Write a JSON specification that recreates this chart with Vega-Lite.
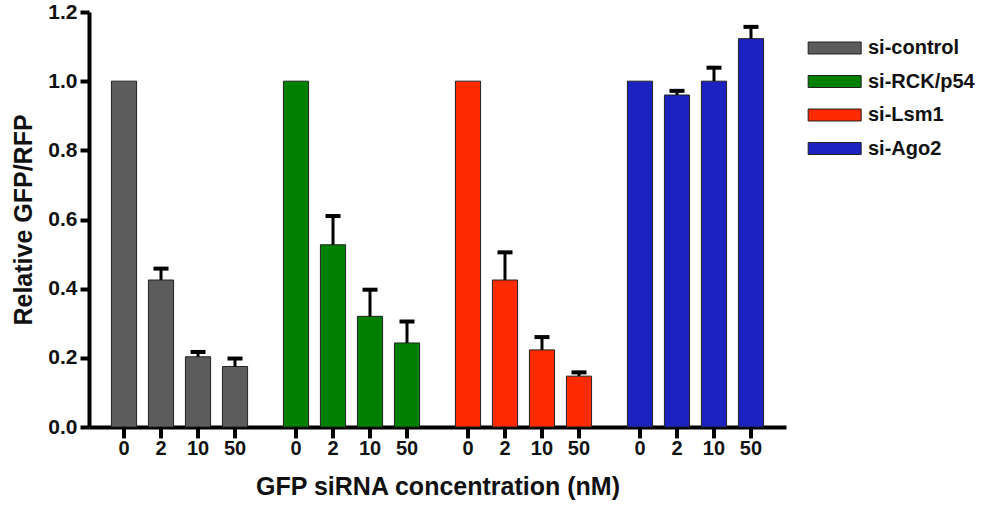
{
  "$schema": "https://vega.github.io/schema/vega-lite/v6.json",
  "autosize": {"type": "none"},
  "padding": {"left": 89, "top": 12, "right": 203, "bottom": 80},
  "width": 697,
  "height": 415,
  "config": {
    "view": {"stroke": null},
    "font": "Liberation Sans"
  },
  "data": {
    "values": [
      {"group": "si-control", "conc": "0", "value": 1.0, "err": null},
      {"group": "si-control", "conc": "2", "value": 0.425, "err": 0.458},
      {"group": "si-control", "conc": "10", "value": 0.203, "err": 0.217},
      {"group": "si-control", "conc": "50", "value": 0.175, "err": 0.198},
      {"group": "si-RCK/p54", "conc": "0", "value": 1.0, "err": null},
      {"group": "si-RCK/p54", "conc": "2", "value": 0.527, "err": 0.61},
      {"group": "si-RCK/p54", "conc": "10", "value": 0.32, "err": 0.397},
      {"group": "si-RCK/p54", "conc": "50", "value": 0.243, "err": 0.305},
      {"group": "si-Lsm1", "conc": "0", "value": 1.0, "err": null},
      {"group": "si-Lsm1", "conc": "2", "value": 0.425, "err": 0.505},
      {"group": "si-Lsm1", "conc": "10", "value": 0.223, "err": 0.26},
      {"group": "si-Lsm1", "conc": "50", "value": 0.147, "err": 0.158},
      {"group": "si-Ago2", "conc": "0", "value": 1.0, "err": null},
      {"group": "si-Ago2", "conc": "2", "value": 0.96, "err": 0.972},
      {"group": "si-Ago2", "conc": "10", "value": 1.0, "err": 1.039},
      {"group": "si-Ago2", "conc": "50", "value": 1.123, "err": 1.157}
    ]
  },
  "encoding": {
    "x": {
      "field": "group", "type": "nominal",
      "sort": ["si-control", "si-RCK/p54", "si-Lsm1", "si-Ago2"],
      "scale": {"paddingInner": 0.1395, "paddingOuter": 0.096},
      "axis": {
        "labels": false, "ticks": false, "domain": true,
        "domainColor": "black", "domainWidth": 4,
        "title": "GFP siRNA concentration (nM)",
        "titleFont": "Liberation Sans", "titleFontSize": 25, "titleFontWeight": "bold",
        "titleColor": "#111", "titlePadding": 47
      }
    },
    "xOffset": {
      "field": "conc", "type": "nominal",
      "sort": ["0", "2", "10", "50"],
      "scale": {"paddingInner": 0.32, "paddingOuter": 0.16}
    }
  },
  "layer": [
    {
      "mark": {"type": "bar", "stroke": "#222", "strokeWidth": 1},
      "encoding": {
        "y": {
          "field": "value", "type": "quantitative",
          "scale": {"domain": [0, 1.2], "nice": false, "zero": true},
          "axis": {
            "values": [0, 0.2, 0.4, 0.6, 0.8, 1.0, 1.2],
            "format": ".1f", "grid": false,
            "domainColor": "black", "domainWidth": 4,
            "tickColor": "black", "tickWidth": 4, "tickSize": 9,
            "labelFont": "Liberation Sans", "labelFontSize": 21, "labelFontWeight": "bold",
            "labelColor": "#111", "labelPadding": 3,
            "title": "Relative GFP/RFP",
            "titleFont": "Liberation Sans", "titleFontSize": 25, "titleFontWeight": "bold",
            "titleColor": "#111", "titlePadding": 11
          }
        },
        "color": {
          "field": "group", "type": "nominal",
          "sort": ["si-control", "si-RCK/p54", "si-Lsm1", "si-Ago2"],
          "scale": {"range": ["#5c5c5c", "#008000", "#ff2a00", "#1c22c0"]},
          "legend": {
            "title": null,
            "orient": "none", "legendX": 718, "legendY": 26,
            "padding": 0,
            "symbolType": "M-1,-0.678H5V0.678H-1Z",
            "symbolSize": 312,
            "symbolStrokeColor": "#222", "symbolStrokeWidth": 1,
            "symbolOpacity": 1,
            "labelFont": "Liberation Sans", "labelFontSize": 20, "labelFontWeight": "bold",
            "labelColor": "#111", "labelOffset": 41, "rowPadding": 13.5
          }
        }
      }
    },
    {
      "transform": [{"filter": "datum.err != null"}],
      "mark": {"type": "rule", "color": "black", "strokeWidth": 3},
      "encoding": {
        "y": {"field": "value", "type": "quantitative"},
        "y2": {"field": "err"}
      }
    },
    {
      "transform": [{"filter": "datum.err != null"}],
      "mark": {"type": "tick", "color": "black", "size": 15, "thickness": 4, "opacity": 1},
      "encoding": {
        "y": {"field": "err", "type": "quantitative"}
      }
    },
    {
      "mark": {"type": "rule", "color": "black", "strokeWidth": 4},
      "encoding": {
        "y": {"datum": 0},
        "y2": {"datum": -0.033}
      }
    },
    {
      "mark": {"type": "text", "dy": 22, "baseline": "middle", "font": "Liberation Sans", "fontSize": 20, "fontWeight": "bold", "color": "#111"},
      "encoding": {
        "y": {"datum": 0},
        "text": {"field": "conc"}
      }
    }
  ]
}
